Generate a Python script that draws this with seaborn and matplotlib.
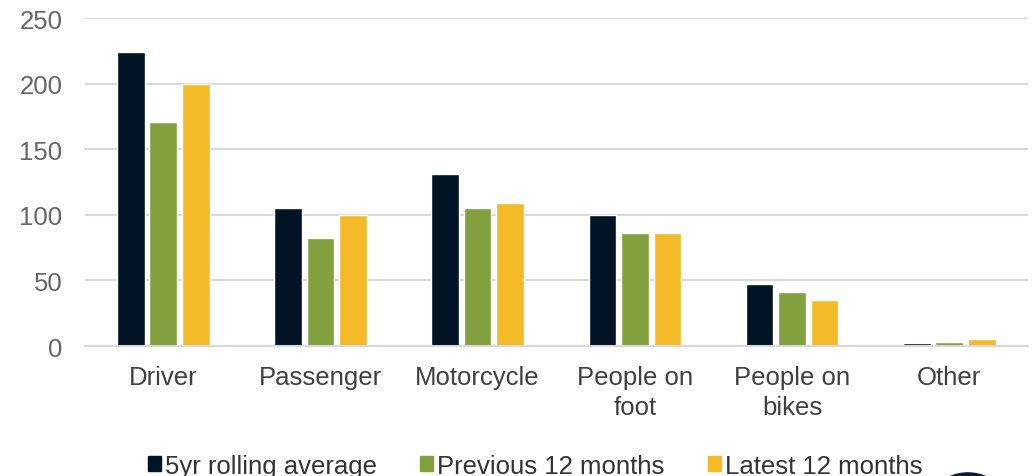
import pandas as pd
import seaborn as sns
import matplotlib.pyplot as plt
from matplotlib.patches import Ellipse

sns.set_style('white')
plt.rcParams['font.family'] = ['Liberation Sans', 'DejaVu Sans']

# Data
categories = ['Driver', 'Passenger', 'Motorcycle', 'People on\nfoot', 'People on\nbikes', 'Other']
series = ['5yr rolling average', 'Previous 12 months', 'Latest 12 months']
rolling_avg = [224, 105, 131, 100, 47, 2]
previous_12 = [171, 82, 105, 86, 41, 3]
latest_12 = [200, 100, 109, 86, 35, 5]
colors = ['#001426', '#82A03E', '#F4BA27']

df = pd.DataFrame({'category': categories * 3,
                   'series': [s for s in series for _ in categories],
                   'value': rolling_avg + previous_12 + latest_12})

fig = plt.figure(figsize=(10.33, 4.77), dpi=100)
ax = fig.add_axes([0.082, 0.2725, 0.913, 0.6875])

sns.barplot(data=df, x='category', y='value', hue='series', palette=colors,
            width=0.62, gap=0.15, ax=ax, legend=False, saturation=1)

ax.set_ylim(0, 250)
ax.set_yticks(range(0, 251, 50))
ax.set_xlim(-0.5, len(categories) - 0.5)
ax.yaxis.grid(True, color='#D9D9D9', linewidth=1.5)
ax.set_axisbelow(True)
for side in ['left', 'right', 'top']:
    ax.spines[side].set_visible(False)
ax.spines['bottom'].set_color('#D9D9D9')
ax.spines['bottom'].set_linewidth(1.5)
ax.set_xlabel('')
ax.set_ylabel('')
ax.tick_params(axis='y', labelsize=18.5, labelcolor='#666666', length=0, pad=16)
ax.tick_params(axis='x', labelsize=18.5, labelcolor='#404040', length=0, pad=14)
for lbl in ax.get_xticklabels():
    lbl.set_linespacing(1.3)

handles = [plt.Rectangle((0, 0), 1, 1, color=c) for c in colors]
fig.legend(handles, series, loc='center', bbox_to_anchor=(0.518, 0.022), ncol=3,
           frameon=False, fontsize=18.5, handlelength=0.5, handleheight=0.5,
           handletextpad=0.15, columnspacing=1.7, labelcolor='#333333')

# dark round logo peeking in at the bottom edge
fig.patches.append(Ellipse((0.937, -0.088), 0.087, 0.189, color='#0E1A2E',
                           transform=fig.transFigure, figure=fig))

fig.savefig('out.png', dpi=100)
